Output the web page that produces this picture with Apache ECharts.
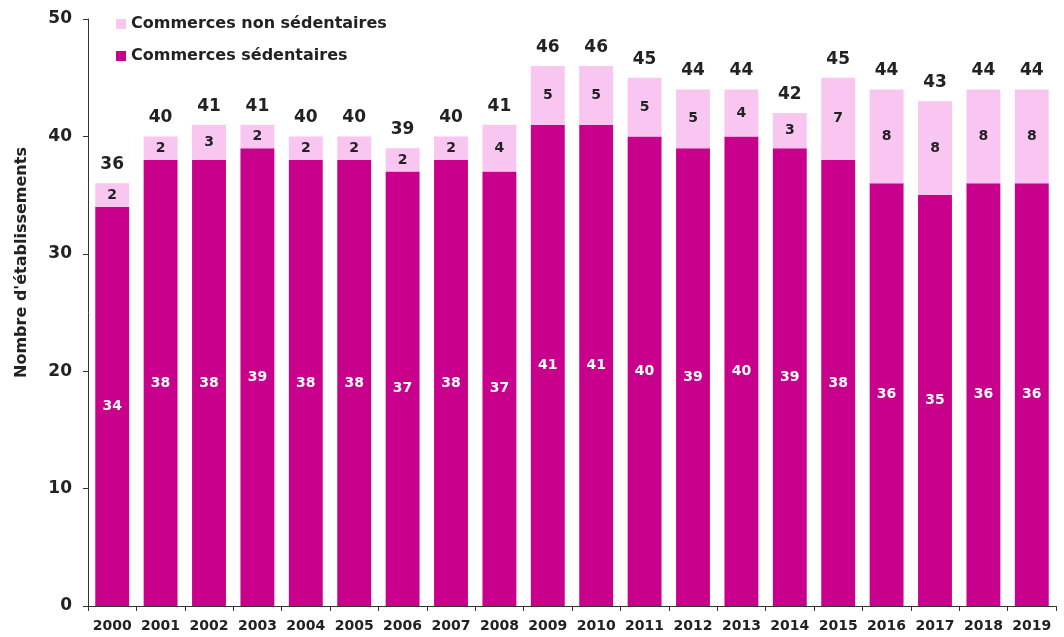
<!DOCTYPE html>
<html>
<head>
<meta charset="utf-8">
<script src="https://cdn.jsdelivr.net/npm/echarts@6/dist/echarts.min.js"></script>
<style>
  html, body { margin: 0; padding: 0; background: #fff; }
  #main { width: 1064px; height: 637px; }
</style>
</head>
<body>
<div id="main"></div>
<script>
// données
var years = ['2000', '2001', '2002', '2003', '2004', '2005', '2006', '2007', '2008', '2009',
             '2010', '2011', '2012', '2013', '2014', '2015', '2016', '2017', '2018', '2019'];
var sedentaires = [34, 38, 38, 39, 38, 38, 37, 38, 37, 41, 41, 40, 39, 40, 39, 38, 36, 35, 36, 36];
var nonSedentaires = [2, 2, 3, 2, 2, 2, 2, 2, 4, 5, 5, 5, 5, 4, 3, 7, 8, 8, 8, 8];
var yTicks = [0, 10, 20, 30, 40, 50];

var totals = sedentaires.map(function (v, i) { return v + nonSedentaires[i]; });

var font = 'DejaVu Sans';
var chart = echarts.init(document.getElementById('main'));

var option = {
  animation: false,
  grid: { left: 88, right: 8, top: 19, bottom: 31 },
  legend: {
    data: ['Commerces non sédentaires', 'Commerces sédentaires'],
    orient: 'vertical',
    left: 111,
    top: 11,
    itemWidth: 10,
    itemHeight: 10,
    itemGap: 16,
    icon: 'rect',
    textStyle: { fontFamily: font, fontWeight: 'bold', fontSize: 16, color: '#222' }
  },
  xAxis: {
    type: 'category',
    data: years,
    axisLine: { lineStyle: { color: '#333' } },
    axisTick: { show: true, length: 5, lineStyle: { color: '#333' } },
    axisLabel: { interval: 0, fontFamily: font, fontWeight: 'bold', fontSize: 14, color: '#222', margin: 13 }
  },
  yAxis: {
    type: 'value',
    min: yTicks[0],
    max: yTicks[yTicks.length - 1],
    interval: 10,
    name: "Nombre d'établissements",
    nameLocation: 'middle',
    nameGap: 58,
    nameTextStyle: { fontFamily: font, fontWeight: 'bold', fontSize: 16, color: '#222', padding: [0, 0, 0, 100] },
    splitLine: { show: false },
    axisLine: { show: true, lineStyle: { color: '#333' } },
    axisTick: { show: true, length: 5, lineStyle: { color: '#333' } },
    axisLabel: { fontFamily: font, fontWeight: 'bold', fontSize: 17, color: '#222', margin: 16 }
  },
  series: [
    {
      name: 'Commerces sédentaires',
      type: 'bar',
      stack: 'total',
      data: sedentaires,
      barWidth: '70%',
      itemStyle: { color: '#c8008c' },
      label: {
        show: true, position: 'inside',
        fontFamily: font, fontWeight: 'bold', fontSize: 14, color: '#fff'
      }
    },
    {
      name: 'Commerces non sédentaires',
      type: 'bar',
      stack: 'total',
      data: nonSedentaires,
      barWidth: '70%',
      itemStyle: { color: '#f9c6f2' },
      label: {
        show: true, position: 'inside',
        fontFamily: font, fontWeight: 'bold', fontSize: 14, color: '#222'
      }
    },
    {
      name: 'Total',
      type: 'bar',
      data: totals,
      barWidth: '70%',
      barGap: '-100%',
      z: 1,
      itemStyle: { color: 'rgba(0,0,0,0)' },
      label: {
        show: true, position: 'top', distance: 10,
        fontFamily: font, fontWeight: 'bold', fontSize: 17, color: '#222'
      },
      tooltip: { show: false }
    }
  ]
};

chart.setOption(option);
</script>
</body>
</html>
